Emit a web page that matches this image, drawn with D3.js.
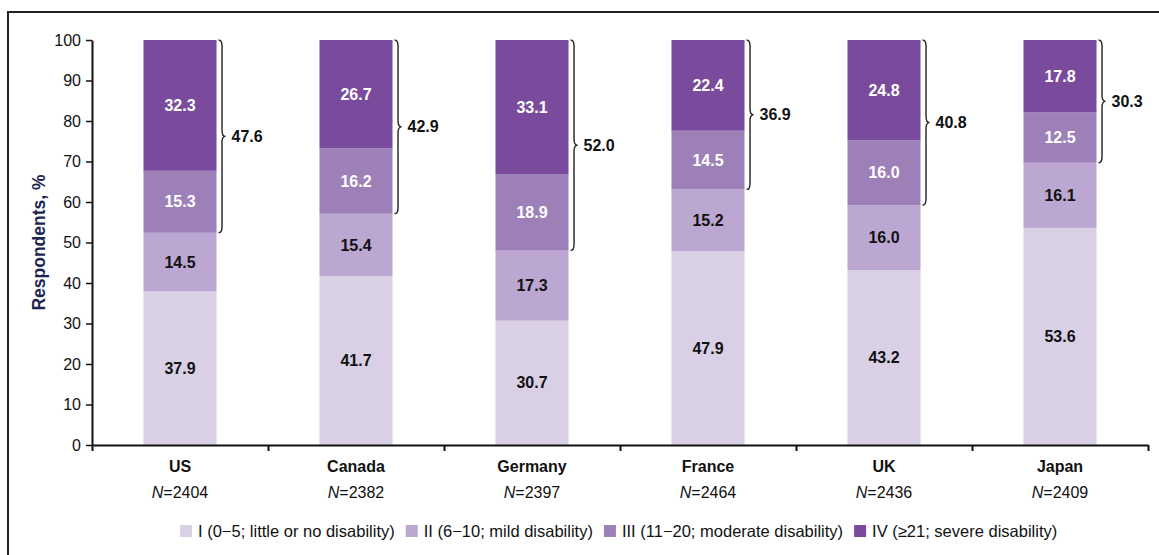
<!DOCTYPE html>
<html>
<head>
<meta charset="utf-8">
<script src="https://cdn.jsdelivr.net/npm/d3@7"></script>
<style>
  body { margin: 0; background: #fff; }
  svg { font-family: "Liberation Sans", Arial, sans-serif; }
</style>
</head>
<body>
<svg id="chart" width="1159" height="555"></svg>
<script>
const countries = ["US", "Canada", "Germany", "France", "UK", "Japan"],
    sampleN = ["2404", "2382", "2397", "2464", "2436", "2409"],
    gradeI = [37.9, 41.7, 30.7, 47.9, 43.2, 53.6],
    gradeII = [14.5, 15.4, 17.3, 15.2, 16.0, 16.1],
    gradeIII = [15.3, 16.2, 18.9, 14.5, 16.0, 12.5],
    gradeIV = [32.3, 26.7, 33.1, 22.4, 24.8, 17.8],
    bracketTotals = ["47.6", "42.9", "52.0", "36.9", "40.8", "30.3"],
    yTicks = [0, 10, 20, 30, 40, 50, 60, 70, 80, 90, 100];

const keys = ["I", "II", "III", "IV"],
    legendLabels = [
        "I (0\u22125; little or no disability)",
        "II (6\u221210; mild disability)",
        "III (11\u221220; moderate disability)",
        "IV (\u226521; severe disability)"
    ],
    colors = ["#d9d0e6", "#bca7d2", "#9e80b9", "#7a4b9c"],
    labelColors = ["#111", "#111", "#fff", "#fff"];

const rows = countries.map((c, i) => ({
    country: c,
    I: gradeI[i], II: gradeII[i], III: gradeIII[i], IV: gradeIV[i]
}));

const svg = d3.select("#chart"),
    margin = { top: 40, left: 92, right: 11, bottom: 110 },
    width = +svg.attr("width") - margin.left - margin.right,
    height = +svg.attr("height") - margin.top - margin.bottom;

// outer frame (runs off the right and bottom edge like the source)
svg.append("rect")
    .attr("x", 8).attr("y", 12)
    .attr("width", 1200).attr("height", 600)
    .attr("fill", "none").attr("stroke", "#222").attr("stroke-width", 2);

const g = svg.append("g").attr("transform", "translate(" + margin.left + "," + margin.top + ")");

const x = d3.scaleBand().domain(countries).range([0, width])
    .paddingInner(0.585).paddingOuter(0.2925);
const xEdge = d3.scaleLinear().domain([0, countries.length]).range([0, width]);
const y = d3.scaleLinear().domain([0, 100]).range([height, 0]);

const series = d3.stack().keys(keys)(rows);

// bars
const layer = g.selectAll(".layer").data(series).enter().append("g")
    .attr("fill", (d, i) => colors[i]);

layer.selectAll("rect").data(d => d).enter().append("rect")
    .attr("x", d => x(d.data.country))
    .attr("width", x.bandwidth())
    .attr("y", d => y(d[1]))
    .attr("height", d => y(d[0]) - y(d[1]));

// segment labels
series.forEach((s, si) => {
    g.selectAll(".lab" + si).data(s).enter().append("text")
        .attr("x", d => x(d.data.country) + x.bandwidth() / 2)
        .attr("y", d => y((d[0] + d[1]) / 2))
        .attr("dy", "0.35em")
        .attr("text-anchor", "middle")
        .attr("font-size", 16)
        .attr("font-weight", "bold")
        .attr("fill", labelColors[si])
        .text(d => d3.format(".1f")(d[1] - d[0]));
});

// curly brackets for III + IV
const bw = 7, r = 6;
rows.forEach((d, i) => {
    const x0 = x(d.country) + x.bandwidth() + 2,
        top = y(100),
        bot = y(d.I + d.II),
        mid = (top + bot) / 2,
        xm = x0 + bw / 2,
        xt = x0 + bw;
    const p = d3.path();
    p.moveTo(x0, top);
    p.quadraticCurveTo(xm, top, xm, top + r);
    p.lineTo(xm, mid - r);
    p.quadraticCurveTo(xm, mid, xt, mid);
    p.quadraticCurveTo(xm, mid, xm, mid + r);
    p.lineTo(xm, bot - r);
    p.quadraticCurveTo(xm, bot, x0, bot);
    g.append("path").attr("d", p.toString())
        .attr("fill", "none").attr("stroke", "#222").attr("stroke-width", 1.4);
    g.append("text")
        .attr("x", xt + 6).attr("y", mid).attr("dy", "0.35em")
        .attr("font-size", 16).attr("font-weight", "bold").attr("fill", "#111")
        .text(bracketTotals[i]);
});

// y axis
const yAxis = g.append("g").call(d3.axisLeft(y).tickValues(yTicks).tickSize(6).tickSizeOuter(0));
yAxis.select(".domain").attr("stroke", "#111").attr("stroke-width", 2);
yAxis.selectAll(".tick line").attr("stroke", "#111").attr("stroke-width", 1.5);
yAxis.selectAll("text").attr("font-size", 16).attr("fill", "#111")
    .attr("font-family", "Liberation Sans, Arial, sans-serif").attr("x", -11);

// x axis: ticks at category boundaries
const xAxis = g.append("g").attr("transform", "translate(0," + height + ")")
    .call(d3.axisBottom(xEdge).tickValues(d3.range(countries.length + 1)).tickFormat("").tickSize(6).tickSizeOuter(0));
xAxis.select(".domain").attr("stroke", "#111").attr("stroke-width", 2);
xAxis.selectAll(".tick line").attr("stroke", "#111").attr("stroke-width", 2);

// category labels
g.selectAll(".cat").data(countries).enter().append("text")
    .attr("x", d => x(d) + x.bandwidth() / 2)
    .attr("y", height + 27)
    .attr("text-anchor", "middle")
    .attr("font-size", 16).attr("font-weight", "bold").attr("fill", "#111")
    .text(d => d);

const nLab = g.selectAll(".nlab").data(countries).enter().append("text")
    .attr("x", d => x(d) + x.bandwidth() / 2)
    .attr("y", height + 53)
    .attr("text-anchor", "middle")
    .attr("font-size", 16).attr("fill", "#111");
nLab.append("tspan").attr("font-style", "italic").text("N");
nLab.append("tspan").text((d, i) => "=" + sampleN[i]);

// y title
svg.append("text")
    .attr("transform", "translate(45," + (margin.top + height / 2) + ") rotate(-90)")
    .attr("text-anchor", "middle")
    .attr("font-size", 17.5).attr("font-weight", "bold").attr("fill", "#1c2453")
    .text("Respondents, %");

// legend
const legend = svg.append("g").attr("transform", "translate(0,531)");
let lx = 180;
legendLabels.forEach((t, i) => {
    legend.append("rect").attr("x", lx).attr("y", -6).attr("width", 12).attr("height", 12)
        .attr("fill", colors[i]);
    const txt = legend.append("text").attr("x", lx + 18).attr("y", 0).attr("dy", "0.35em")
        .attr("font-size", 16.5).attr("fill", "#111").text(t);
    lx += 18 + txt.node().getComputedTextLength() + 11;
});
</script>
</body>
</html>
